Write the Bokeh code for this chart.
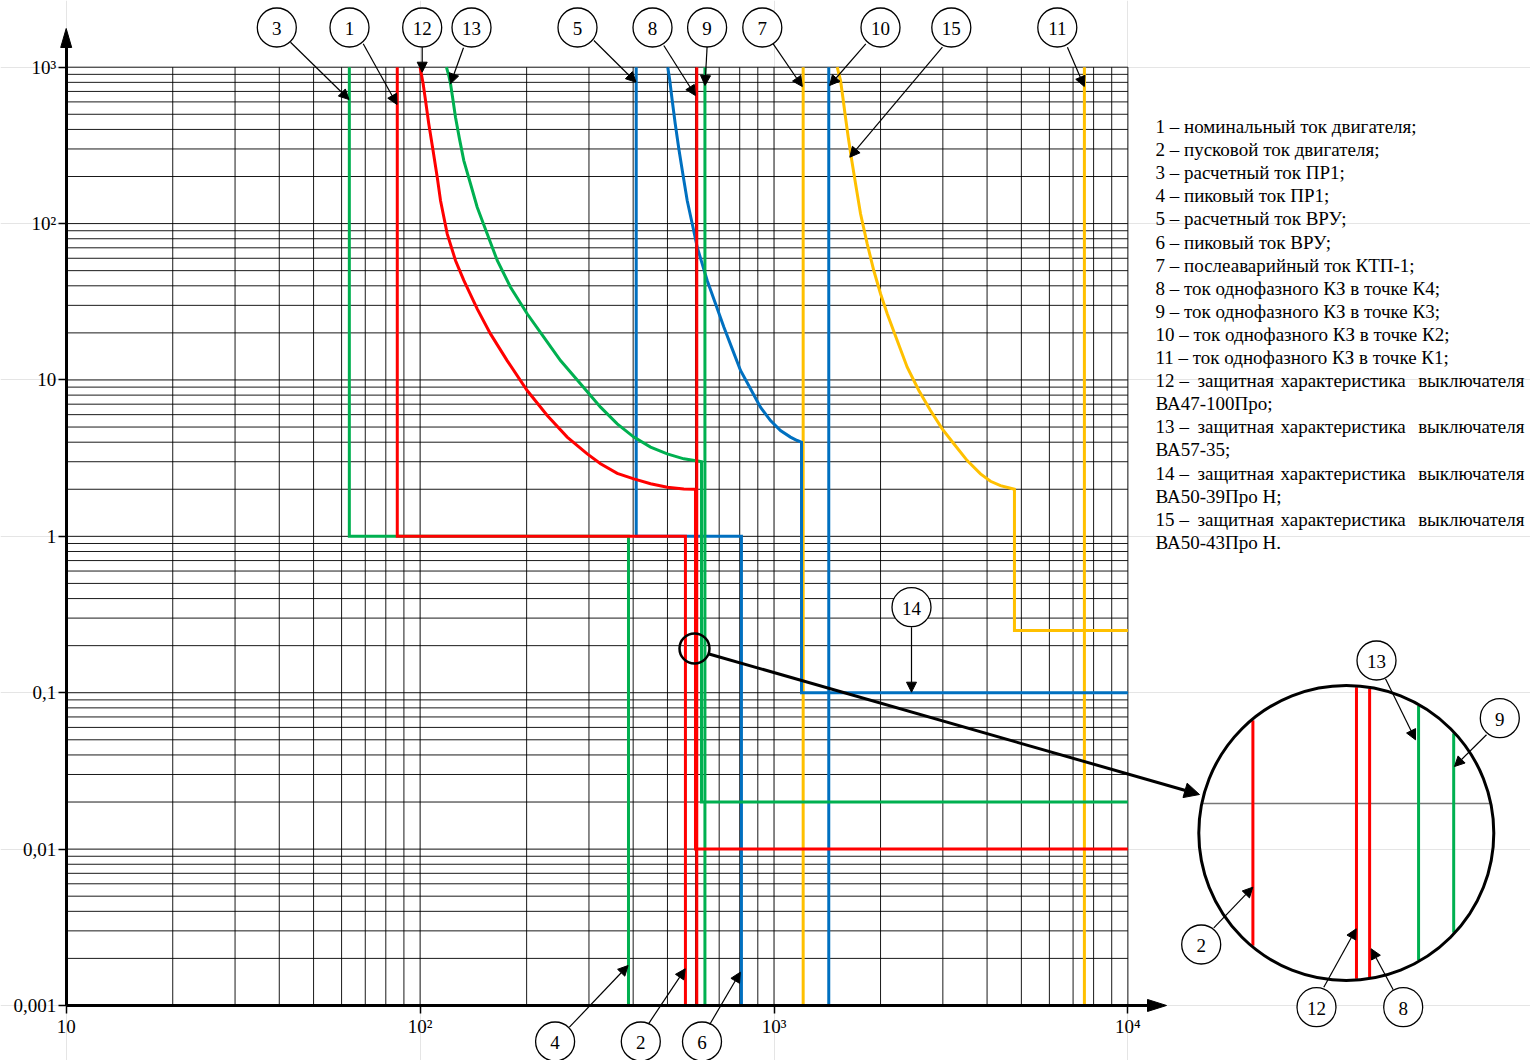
import math
from bokeh.plotting import figure
from bokeh.models import Range1d, LogAxis, FixedTicker, Arrow, NormalHead
from bokeh.core.properties import value
from bokeh.embed import file_html
from bokeh.resources import INLINE

# ---------------- data (I in A, t in s) ----------------
t_max, t_min = 1000, 0.001
i_min, i_max = 10, 10000
t_step = 1.0

i_nom_motor = 86.2     # 1
i_start_motor = 562    # 2
i_calc_pr1 = 63.1      # 3
i_peak_pr1 = 388       # 4
i_calc_vru = 408       # 5
i_peak_vru = 809       # 6
i_post_ktp = 1209      # 7
i_k4 = 605             # 8
i_k3 = 638             # 9
i_k2 = 1428            # 10
i_k1 = 7535            # 11

# 12 - BA47-100Pro
cb12_i = [100, 102.0, 103.6, 105.8, 108.6, 111.8, 114.2, 119.3, 125.9, 132.9, 145.0, 158.1,
          176.2, 200.7, 228.7, 260.4, 296.7, 323.5, 360.6, 401.7, 447.9, 499.2, 556.2, 600]
cb12_t = [1000, 783, 612, 434.6, 300.8, 198, 140.5, 86.0, 58.1, 43.3, 28.5, 19.7,
          13.3, 8.56, 5.93, 4.31, 3.37, 2.91, 2.53, 2.33, 2.17, 2.06, 2.01, 2.0]
cb12_inst_t = 0.01
# 13 - BA57-35
cb13_i = [118.7, 120.5, 121.9, 123.7, 125.9, 129.2, 132.9, 138.8, 145.0, 154.7, 165.2, 180.1,
          200.7, 223.6, 249.3, 283.9, 323.5, 360.6, 401.7, 447.9, 499.2, 556.2, 620, 624]
cb13_t = [1000, 885, 783, 628, 479, 348, 253, 179.7, 127.3, 86.0, 58.1, 39.2,
          26.5, 18.8, 13.3, 9.45, 6.70, 5.24, 4.31, 3.72, 3.37, 3.13, 3.01, 3.0]
cb13_inst_t = 0.02
# 14 - BA50-39Pro H
cb14_i = [501.0, 507.6, 515.7, 525.9, 538.3, 552.5, 568.5, 587.4, 606.8, 626.8, 647.5, 683.5,
          721.5, 762.0, 804.3, 858.2, 915.7, 977.4, 1043, 1113, 1163, 1196]
cb14_t = [1000, 822, 612, 434.6, 300.8, 208.1, 140.5, 99.7, 70.6, 55.3, 43.3, 30.7,
          21.8, 15.8, 11.5, 8.78, 6.70, 5.50, 4.75, 4.31, 4.10, 4.0]
cb14_inst_t = 0.1
# 15 - BA50-43Pro H
cb15_i = [1509, 1525, 1542, 1565, 1592, 1621, 1653, 1700, 1756, 1834, 1914, 2000, 2089,
          2229, 2379, 2566, 2768, 2988, 3222, 3515, 3833, 4091, 4365, 4780]
cb15_t = [1000, 907.5, 822, 643, 479, 356.8, 265.8, 179.7, 115.5, 74.2, 50.1, 35.6, 26.5,
          17.9, 12.07, 8.56, 6.38, 4.87, 3.91, 3.05, 2.51, 2.25, 2.11, 2.0]
cb15_inst_t = 0.25

x_ticks = [10, 100, 1000, 10000]
x_tick_labels = ["10", "10²", "10³", "10⁴"]
y_ticks = [0.001, 0.01, 0.1, 1, 10, 100, 1000]
y_tick_labels = ["0,001", "0,01", "0,1", "1", "10", "10²", "10³"]

legend_lines = [
    "1 – номинальный ток двигателя;",
    "2 – пусковой ток двигателя;",
    "3 – расчетный ток ПР1;",
    "4 – пиковый ток ПР1;",
    "5 – расчетный ток ВРУ;",
    "6 – пиковый ток ВРУ;",
    "7 – послеаварийный ток КТП-1;",
    "8 – ток однофазного КЗ в точке К4;",
    "9 – ток однофазного КЗ в точке К3;",
    "10 – ток однофазного КЗ в точке К2;",
    "11 – ток однофазного КЗ в точке К1;",
    "12 – защитная характеристика выключателя",
    "ВА47-100Про;",
    "13 – защитная характеристика выключателя",
    "ВА57-35;",
    "14 – защитная характеристика выключателя",
    "ВА50-39Про Н;",
    "15 – защитная характеристика выключателя",
    "ВА50-43Про Н.",
]

# ---------------- layout (page pixels) ----------------
W, H, M = 1530, 1060, 0
X0, DXP = 65.7, 353.9     # page px of I=10, px per decade
Y0, DYP = 66.7, 156.38    # page px of t=1000, px per decade
FONT = value("Liberation Serif")
RED, GREEN, BLUE, YELLOW = "#FF0000", "#00B050", "#0070C0", "#FFC000"


def dx(px):
    return 10 ** (1 + (px - X0) / DXP)


def dy(py):
    return 10 ** (3 - (py - Y0) / DYP)


def px_of(v):
    return X0 + (math.log10(v) - 1) * DXP


def py_of(v):
    return Y0 + (3 - math.log10(v)) * DYP


p = figure(width=W, height=H, x_axis_type="log", y_axis_type="log",
           x_range=Range1d(dx(M), dx(M + W)), y_range=Range1d(dy(M + H), dy(M)),
           x_axis_location=None, y_axis_location=None,
           toolbar_location=None, output_backend="svg", min_border=0,
           outline_line_color=None)
p.background_fill_color = "white"

# ---------- grid ----------
gx, gy = [], []
for d in [10, 100, 1000]:
    for k in range(1, 10):
        gx.append(d * k)
gx.append(10000)
for d in [0.001, 0.01, 0.1, 1, 10, 100]:
    for k in range(1, 10):
        gy.append(d * k)
gy.append(1000)
gx_draw = [g for g in gx if g > i_min]
gy_draw = [g for g in gy if g > t_min]
p.segment(x0=gx_draw, y0=[t_min] * len(gx_draw), x1=gx_draw, y1=[t_max] * len(gx_draw),
          line_color="#000000", line_width=1, line_alpha=0.9)
p.segment(x0=[i_min] * len(gy_draw), y0=gy_draw, x1=[i_max] * len(gy_draw), y1=gy_draw,
          line_color="#000000", line_width=1, line_alpha=0.9)

LW = 3


def draw(xs, ys, color):
    p.line(xs, ys, line_color=color, line_width=LW, line_join="miter")


def vline(x, color):
    draw([x, x], [t_max, t_min], color)


def step(i1, i2, color):
    draw([i1, i1, i2, i2], [t_max, t_step, t_step, t_min], color)


def breaker(ci, ct, inst_t, color):
    draw(ci + [ci[-1], i_max], ct + [inst_t, inst_t], color)


# yellow
vline(i_post_ktp, YELLOW)
vline(i_k1, YELLOW)
breaker(cb15_i, cb15_t, cb15_inst_t, YELLOW)
# blue
step(i_calc_vru, i_peak_vru, BLUE)
vline(i_k2, BLUE)
breaker(cb14_i, cb14_t, cb14_inst_t, BLUE)
# green
step(i_calc_pr1, i_peak_pr1, GREEN)
vline(i_k3, GREEN)
breaker(cb13_i, cb13_t, cb13_inst_t, GREEN)
# red
step(i_nom_motor, i_start_motor, RED)
vline(i_k4, RED)
breaker(cb12_i, cb12_t, cb12_inst_t, RED)

# ---------- axes ----------
x_end_px, y_end_px = 1147, 47
xaxis = LogAxis(fixed_location=t_min, bounds=(i_min, dx(x_end_px)),
                ticker=FixedTicker(ticks=x_ticks),
                major_label_overrides=dict(zip(x_ticks, x_tick_labels)))
yaxis = LogAxis(fixed_location=i_min, bounds=(t_min, dy(y_end_px)),
                ticker=FixedTicker(ticks=y_ticks),
                major_label_overrides=dict(zip(y_ticks, y_tick_labels)))
for ax in (xaxis, yaxis):
    ax.axis_line_width = 3
    ax.axis_line_color = "black"
    ax.major_tick_line_width = 1.5
    ax.major_tick_out = 8
    ax.major_tick_in = 0
    ax.minor_tick_line_color = None
    ax.major_label_text_font = "Liberation Serif"
    ax.major_label_text_font_size = "19px"
    ax.major_label_text_color = "black"
xaxis.major_label_standoff = 3
yaxis.major_label_standoff = 2
p.add_layout(xaxis, "below")
p.add_layout(yaxis, "left")

# axis arrow heads
ya = px_of(i_min)
p.patch([dx(ya - 5.5), dx(ya), dx(ya + 5.5)], [dy(y_end_px), dy(28), dy(y_end_px)],
        fill_color="black", line_color="black")
xb = py_of(t_min)
p.patch([dx(x_end_px), dx(1166), dx(x_end_px)], [dy(xb - 6), dy(xb), dy(xb + 6)],
        fill_color="black", line_color="black")

# ---------- magnifier ----------
SCX, SCY = 694, 648
BCX, BCY, BR, MAG = 1345.8, 832.5, 147.5, 10.3
zoom_items = [(i_start_motor, RED), (cb12_i[-1], RED), (i_k4, RED),
              (cb13_i[-1], GREEN), (i_k3, GREEN)]
gy_m = BCY + (py_of(0.2) - SCY) * MAG
half = math.sqrt(BR ** 2 - (gy_m - BCY) ** 2) - 1
p.segment(x0=[dx(BCX - half)], y0=[dy(gy_m)], x1=[dx(BCX + half)], y1=[dy(gy_m)],
          line_color="#777777", line_width=1.5)
for v, c in zoom_items:
    mx = BCX + (px_of(v) - SCX) * MAG
    h = math.sqrt(BR ** 2 - (mx - BCX) ** 2) - 1.5
    p.line([dx(mx), dx(mx)], [dy(BCY - h), dy(BCY + h)], line_color=c, line_width=LW)
p.scatter([dx(BCX)], [dy(BCY)], size=2 * BR, marker="circle", fill_color=None,
          line_color="black", line_width=3)
p.scatter([dx(SCX)], [dy(SCY)], size=30, marker="circle", fill_color=None,
          line_color="black", line_width=2.5)
p.add_layout(Arrow(end=NormalHead(size=15, fill_color="black", line_color="black"),
                   x_start=dx(708.5), y_start=dy(653.5), x_end=dx(1199), y_end=dy(794),
                   line_width=3, line_color="black"))

# ---------- callouts ----------
callouts = [
    ("3", 276.3, 27, 290, 41.7, 348.5, 99),
    ("1", 349, 27, 362.7, 43.3, 396.5, 104),
    ("12", 421.7, 27, 421.7, 46.7, 421.7, 71.7),
    ("13", 471, 27, 463, 47.3, 450, 83.3),
    ("5", 577, 27, 593.4, 40, 635.5, 81.7),
    ("8", 652, 27, 663.3, 45, 694.9, 95),
    ("9", 706.6, 27, 706.6, 46.5, 704.5, 85),
    ("7", 761.8, 27, 772.7, 43.3, 801.8, 86),
    ("10", 880, 27, 865.3, 43.3, 829.1, 85),
    ("15", 950.8, 27, 941.9, 46.7, 849.3, 156.7),
    ("11", 1056.8, 27, 1066.9, 46.7, 1083.8, 86),
    ("4", 554.6, 1041, 568.9, 1026.7, 627.6, 965),
    ("2", 640.3, 1041, 648, 1023.3, 684.7, 968.3),
    ("6", 701.5, 1041, 709.2, 1024, 739.8, 971.7),
    ("14", 911, 606.7, 911, 626.7, 911, 691.7),
    ("13", 1376, 660, 1385, 678.3, 1415, 739.3),
    ("9", 1499.3, 717.7, 1486, 734.3, 1454, 766),
    ("2", 1200.7, 944, 1213.3, 927.3, 1252.3, 886.7),
    ("12", 1316, 1006.7, 1323.3, 986.7, 1355.7, 928.3),
    ("8", 1402.7, 1006.7, 1392.7, 989.3, 1370.7, 948.3),
]
for lab, cx, cy, sx, sy, ex, ey in callouts:
    p.add_layout(Arrow(end=NormalHead(size=10, fill_color="black", line_color="black"),
                       x_start=dx(sx), y_start=dy(sy), x_end=dx(ex), y_end=dy(ey),
                       line_width=1.2, line_color="black"))
p.scatter([dx(c[1]) for c in callouts], [dy(c[2]) for c in callouts], size=39,
          marker="circle", fill_color="white", line_color="black", line_width=1.3)
p.text([dx(c[1]) for c in callouts], [dy(c[2] + 1) for c in callouts],
       text=[c[0] for c in callouts], text_font=FONT, text_font_size=value("19px"),
       text_align="center", text_baseline="middle", text_color="black")

# ---------- legend ----------
LX, LY0, LDY, LRIGHT = 1155, 126, 23.1, 1524
word_x = [1155, 1179, 1197, 1280]
tx, ty, tt, ta = [], [], [], []
for k, s in enumerate(legend_lines):
    y = LY0 + k * LDY
    words = s.split(" ")
    if s.endswith("выключателя") and len(words) == len(word_x) + 1:
        for wx, w in zip(word_x, words[:-1]):
            tx.append(dx(wx)); ty.append(dy(y)); tt.append(w); ta.append("left")
        tx.append(dx(LRIGHT)); ty.append(dy(y)); tt.append(words[-1]); ta.append("right")
    else:
        tx.append(dx(LX)); ty.append(dy(y)); tt.append(s); ta.append("left")
p.text(tx, ty, text=tt, text_align=ta, text_font=FONT, text_font_size=value("19px"),
       text_baseline="middle", text_color="black")

open("out.html", "w").write(file_html(p, INLINE))
